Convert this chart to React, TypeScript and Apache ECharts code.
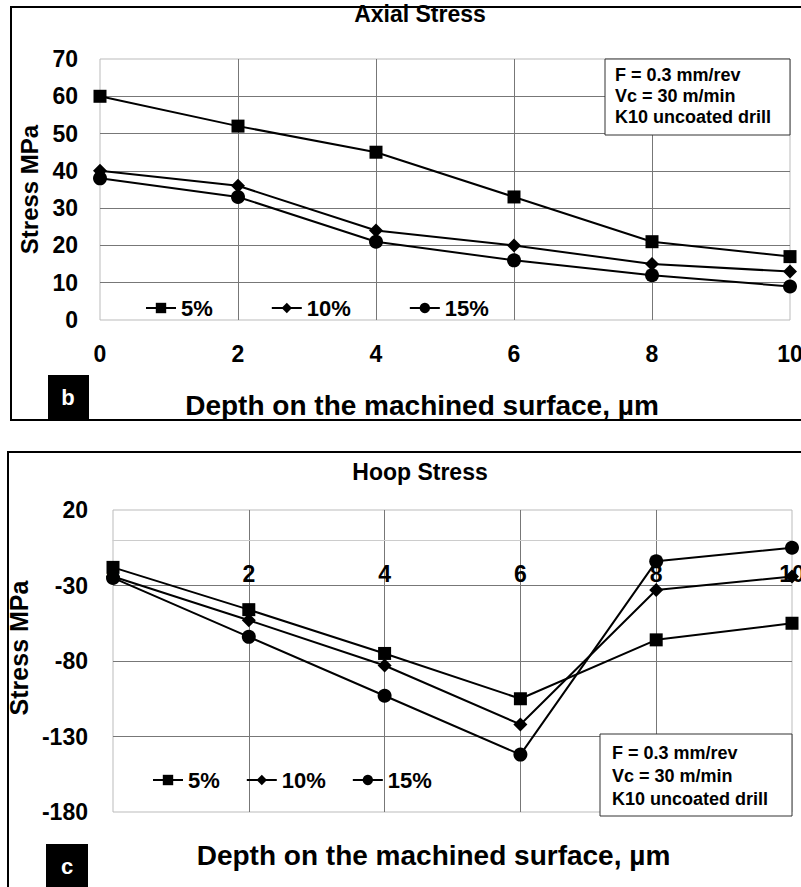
import React, { useEffect, useRef } from "react";
import * as echarts from "echarts";

const depths = [0, 2, 4, 6, 8, 10];
const seriesNames = ["5%", "10%", "15%"];
const symbols = ["rect", "diamond", "circle"];
const axial5 = [60, 52, 45, 33, 21, 17];
const axial10 = [40, 36, 24, 20, 15, 13];
const axial15 = [38, 33, 21, 16, 12, 9];
const hoop5 = [-18, -46, -75, -105, -66, -55];
const hoop10 = [-24, -53, -83, -122, -33, -24];
const hoop15 = [-25, -64, -103, -142, -14, -5];
const noteLines = ["F = 0.3 mm/rev", "Vc = 30 m/min", "K10 uncoated drill"];

const FONT = "'Liberation Sans', Arial, sans-serif";

export default function App() {
  const ref = useRef<HTMLDivElement>(null);
  useEffect(() => {
    if (!ref.current) return;
    const chart = echarts.init(ref.current, null, { renderer: "svg" });
    const zip = (vals: number[]) => depths.map((d, i) => [d, vals[i]]);
    const axialSets = [axial5, axial10, axial15];
    const hoopSets = [hoop5, hoop10, hoop15];
    const symSize = [13, 14, 14];

    const mkSeries = (sets: number[][], idx: number) =>
      sets.map((vals, i) => ({
        name: seriesNames[i],
        type: "line",
        xAxisIndex: idx,
        yAxisIndex: idx,
        data: zip(vals),
        symbol: symbols[i],
        symbolSize: symSize[i],
        color: "#000",
        lineStyle: { color: "#000", width: 2 },
        itemStyle: { color: "#000" },
        z: 5,
      }));

    const axisLabel = (margin: number) => ({
      color: "#000",
      fontFamily: FONT,
      fontWeight: "bold",
      fontSize: 23,
      margin,
    });
    const nameStyle = {
      color: "#000",
      fontFamily: FONT,
      fontWeight: "bold",
      fontSize: 28,
    };
    const splitLine = { show: true, lineStyle: { color: "#777", width: 1 }, showMinLine: false, showMaxLine: false };

    const legendCommon = {
      itemWidth: 30,
      itemHeight: 13,
      itemGap: 58,
      padding: 0,
      textStyle: { color: "#000", fontFamily: FONT, fontWeight: "bold", fontSize: 22 },
      data: seriesNames,
      selectedMode: false,
    };

    const noteText = noteLines.join("\n");

    chart.setOption({
      animation: false,
      backgroundColor: "#fff",
      title: [
        {
          text: "Axial Stress",
          left: 415,
          top: -3,
          textAlign: "center",
          textStyle: { color: "#000", fontFamily: FONT, fontWeight: "bold", fontSize: 23 },
        },
        {
          text: "Hoop Stress",
          left: 415,
          top: 455,
          textAlign: "center",
          textStyle: { color: "#000", fontFamily: FONT, fontWeight: "bold", fontSize: 23 },
        },
      ],
      grid: [
        { left: 100, top: 59, width: 690, height: 261, show: true, borderColor: "#bbb", borderWidth: 1, outerBoundsMode: "none", containLabel: false },
        { left: 113, top: 510, width: 679, height: 302, show: true, borderColor: "#bbb", borderWidth: 1, outerBoundsMode: "none", containLabel: false },
      ],
      legend: [
        { ...legendCommon, left: 145, top: 297 },
        { ...legendCommon, left: 152, top: 769, itemGap: 26 },
      ],
      xAxis: [
        {
          type: "value",
          gridIndex: 0,
          min: 0,
          max: 10,
          interval: 2,
          axisLine: { show: false },
          axisTick: { show: false },
          axisLabel: axisLabel(22),
          splitLine,
          name: "Depth on the machined surface, µm",
          nameLocation: "middle",
          nameGap: 71,
          nameMoveOverlap: false,
          nameTextStyle: { ...nameStyle, padding: [0, 46, 0, 0] },
        },
        {
          type: "value",
          gridIndex: 1,
          min: 0,
          max: 10,
          interval: 2,
          position: "bottom",
          offset: -272,
          axisLine: { show: true, onZero: false, lineStyle: { color: "#ccc", width: 1 } },
          axisTick: { show: false },
          axisLabel: axisLabel(22),
          splitLine,
          name: "Depth on the machined surface, µm",
          nameLocation: "middle",
          nameGap: 301,
          nameMoveOverlap: false,
          nameTextStyle: { ...nameStyle, padding: [0, 38, 0, 0] },
        },
      ],
      yAxis: [
        {
          type: "value",
          gridIndex: 0,
          min: 0,
          max: 70,
          interval: 10,
          axisLine: { show: false },
          axisTick: { show: false },
          axisLabel: axisLabel(22),
          splitLine,
          name: "Stress MPa",
          nameLocation: "middle",
          nameRotate: 90,
          nameGap: 58,
          nameTextStyle: { ...nameStyle, fontSize: 24 },
        },
        {
          type: "value",
          gridIndex: 1,
          min: -180,
          max: 20,
          interval: 50,
          axisLine: { show: false },
          axisTick: { show: false },
          axisLabel: axisLabel(25),
          splitLine,
          name: "Stress MPa",
          nameLocation: "middle",
          nameRotate: 90,
          nameGap: 72,
          nameTextStyle: { ...nameStyle, fontSize: 25, padding: [0, 0, 0, 26] },
        },
      ],
      series: [...mkSeries(axialSets, 0), ...mkSeries(hoopSets, 1)],
      graphic: [
        { type: "rect", z: 50, shape: { x: 11, y: 7, width: 900, height: 413 }, style: { fill: "none", stroke: "#000", lineWidth: 2 } },
        { type: "rect", z: 50, shape: { x: 8, y: 452, width: 900, height: 500 }, style: { fill: "none", stroke: "#000", lineWidth: 2 } },
        { type: "rect", z: 50, shape: { x: 48, y: 375, width: 41, height: 45 }, style: { fill: "#000" } },
        { type: "text", z: 51, x: 68, y: 397, style: { text: "b", fill: "#fff", font: `bold 22px ${FONT}`, align: "center", verticalAlign: "middle" } },
        { type: "rect", z: 50, shape: { x: 46, y: 844, width: 42, height: 50 }, style: { fill: "#000" } },
        { type: "text", z: 51, x: 67, y: 866, style: { text: "c", fill: "#fff", font: `bold 22px ${FONT}`, align: "center", verticalAlign: "middle" } },
        { type: "rect", z: 60, shape: { x: 605, y: 59, width: 185, height: 76 }, style: { fill: "#fff", stroke: "#333", lineWidth: 1 } },
        { type: "text", z: 61, x: 615, y: 64, style: { text: noteText, fill: "#000", font: `bold 18px ${FONT}`, lineHeight: 21 } },
        { type: "rect", z: 60, shape: { x: 600, y: 734, width: 192, height: 82 }, style: { fill: "#fff", stroke: "#333", lineWidth: 1 } },
        { type: "text", z: 61, x: 612, y: 741, style: { text: noteText, fill: "#000", font: `bold 18px ${FONT}`, lineHeight: 23 } },
      ],
    });
    return () => chart.dispose();
  }, []);

  return (
    <div style={{ position: "absolute", left: 0, top: 0, width: 801, height: 887, overflow: "hidden", background: "#fff" }}>
      <div ref={ref} style={{ width: 815, height: 887 }} />
    </div>
  );
}
